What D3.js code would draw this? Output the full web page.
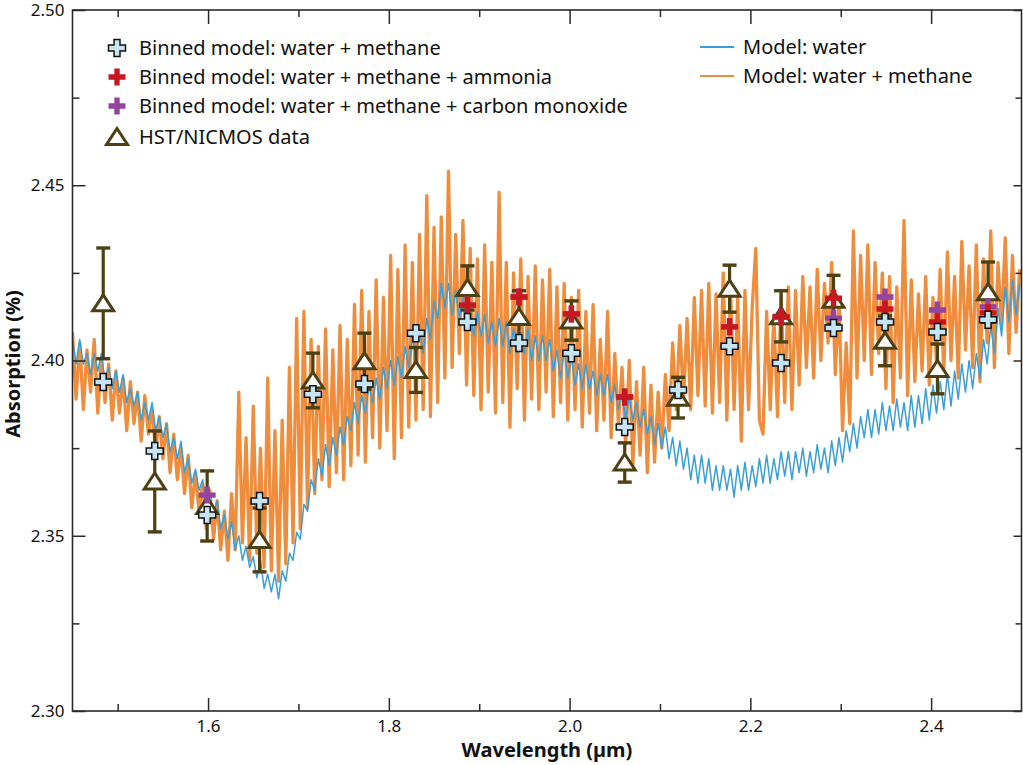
<!DOCTYPE html>
<html><head><meta charset="utf-8">
<script src="https://cdn.jsdelivr.net/npm/d3@7"></script>
<style>
body{margin:0;background:#fff}
svg{display:block}
text{font-family:"Noto Sans",sans-serif;fill:#111}
</style>
</head><body>
<svg id="chart" width="1023" height="765"></svg>
<script>
// ---- data ----
const waveStart = 1.45, waveStep = 0.004;   // sampling grid of the model spectra (µm)
const modelWater = [
2.406,2.399,2.406,2.399,2.402,2.396,2.402,2.397,2.402,2.394,2.398,2.392,2.397,2.391,2.396,2.388,2.392,2.387,2.391,2.383,2.388,2.383,2.388,2.380,2.384,
2.378,2.382,2.374,2.378,2.372,2.377,2.368,2.372,2.365,2.369,2.363,2.366,2.358,2.362,2.356,2.360,2.352,2.356,2.349,2.354,2.346,2.350,2.343,2.347,2.341,
2.344,2.338,2.343,2.335,2.339,2.334,2.339,2.332,2.340,2.337,2.345,2.343,2.351,2.349,2.359,2.357,2.366,2.363,2.372,2.367,2.376,2.370,2.378,2.373,2.381,
2.376,2.384,2.380,2.388,2.382,2.390,2.385,2.393,2.388,2.395,2.389,2.398,2.392,2.400,2.393,2.401,2.395,2.404,2.398,2.407,2.401,2.409,2.402,2.412,2.406,
2.417,2.412,2.422,2.415,2.422,2.413,2.420,2.412,2.418,2.409,2.415,2.407,2.414,2.407,2.413,2.405,2.411,2.404,2.412,2.404,2.411,2.402,2.409,2.402,2.408,
2.402,2.409,2.400,2.407,2.400,2.407,2.400,2.406,2.397,2.403,2.395,2.403,2.395,2.401,2.393,2.399,2.392,2.399,2.392,2.397,2.390,2.396,2.390,2.396,2.388,
2.393,2.386,2.391,2.383,2.390,2.383,2.388,2.381,2.386,2.379,2.384,2.376,2.382,2.375,2.381,2.372,2.378,2.370,2.377,2.369,2.375,2.366,2.373,2.365,2.373,
2.365,2.372,2.363,2.370,2.363,2.370,2.363,2.369,2.361,2.370,2.363,2.371,2.363,2.370,2.364,2.372,2.365,2.373,2.365,2.372,2.366,2.374,2.367,2.374,2.366,
2.374,2.368,2.375,2.367,2.374,2.368,2.376,2.369,2.375,2.368,2.377,2.370,2.378,2.371,2.380,2.374,2.382,2.375,2.384,2.378,2.386,2.378,2.386,2.379,2.388,
2.380,2.387,2.380,2.389,2.381,2.388,2.380,2.390,2.381,2.390,2.382,2.392,2.383,2.393,2.385,2.394,2.386,2.396,2.387,2.397,2.389,2.399,2.391,2.400,2.392,
2.402,2.395,2.406,2.399,2.410,2.402,2.415,2.407,2.421,2.411,2.423,2.413,2.422];
const modelWaterMethane = [
2.408,2.389,2.405,2.386,2.403,2.391,2.406,2.385,2.401,2.388,2.399,2.383,2.397,2.385,2.395,2.380,2.394,2.382,2.391,2.377,2.390,2.379,2.386,2.374,2.384,
2.372,2.382,2.368,2.379,2.366,2.375,2.362,2.373,2.358,2.368,2.357,2.365,2.352,2.363,2.349,2.360,2.346,2.357,2.343,2.362,2.346,2.391,2.348,2.378,2.343,
2.387,2.345,2.375,2.341,2.395,2.340,2.380,2.337,2.383,2.342,2.398,2.348,2.412,2.352,2.414,2.358,2.406,2.362,2.404,2.366,2.409,2.364,2.403,2.368,2.410,
2.366,2.406,2.370,2.416,2.373,2.420,2.371,2.414,2.378,2.423,2.375,2.418,2.380,2.430,2.372,2.426,2.378,2.433,2.381,2.428,2.383,2.436,2.386,2.447,2.384,
2.438,2.388,2.441,2.395,2.454,2.398,2.436,2.402,2.440,2.393,2.432,2.390,2.429,2.386,2.433,2.391,2.428,2.385,2.448,2.388,2.428,2.381,2.425,2.392,2.429,
2.383,2.424,2.389,2.427,2.386,2.423,2.391,2.426,2.384,2.421,2.388,2.422,2.383,2.418,2.386,2.420,2.381,2.414,2.385,2.416,2.380,2.406,2.383,2.414,2.378,
2.402,2.382,2.398,2.376,2.400,2.370,2.394,2.373,2.398,2.368,2.393,2.371,2.391,2.375,2.396,2.380,2.405,2.386,2.410,2.388,2.412,2.386,2.418,2.390,2.420,
2.387,2.422,2.385,2.419,2.388,2.425,2.383,2.421,2.386,2.418,2.377,2.420,2.386,2.415,2.432,2.383,2.379,2.414,2.386,2.413,2.384,2.419,2.388,2.421,2.386,
2.420,2.393,2.424,2.398,2.421,2.395,2.426,2.400,2.422,2.405,2.428,2.396,2.418,2.380,2.405,2.382,2.437,2.395,2.430,2.400,2.433,2.396,2.428,2.402,2.425,
2.392,2.424,2.388,2.421,2.395,2.440,2.390,2.423,2.394,2.419,2.397,2.424,2.393,2.418,2.399,2.426,2.396,2.431,2.400,2.424,2.395,2.434,2.403,2.427,2.398,
2.433,2.394,2.429,2.405,2.437,2.398,2.428,2.410,2.435,2.402,2.430,2.408,2.426];

const binWavelength = [1.484,1.541,1.599,1.657,1.716,1.773,1.830,1.887,1.944,2.002,2.061,2.120,2.177,2.234,2.292,2.349,2.407,2.463];
const binWaterMethane = [2.3939,2.3742,2.3559,2.3599,2.3904,2.3933,2.4078,2.4110,2.4050,2.4021,2.3810,2.3916,2.4041,2.3993,2.4093,2.4110,2.4081,2.4116];
const binAmmonia      = [2.3939,2.3742,2.3559,2.3599,2.3904,2.3933,2.4078,2.4158,2.4181,2.4133,2.3896,2.3916,2.4096,2.4124,2.4178,2.4147,2.4110,2.4136];
const binCarbonMonox  = [2.3939,2.3742,2.3616,2.3599,2.3904,2.3933,2.4078,2.4158,2.4181,2.4133,2.3896,2.3916,2.4096,2.4124,2.4121,2.4181,2.4144,2.4153];
const hstValue = [2.4163,2.3655,2.3585,2.3488,2.3943,2.3998,2.3973,2.4207,2.4124,2.4114,2.3709,2.3894,2.4205,2.4126,2.4173,2.4056,2.3976,2.4195];
const hstError = [0.0158,0.0144,0.0100,0.0091,0.0078,0.0080,0.0064,0.0063,0.0075,0.0056,0.0056,0.0058,0.0067,0.0073,0.0070,0.0071,0.0071,0.0086];

const xMajorTicks = [1.6,1.8,2.0,2.2,2.4];
const xMinorTicks = [1.5,1.7,1.9,2.1,2.3];
const yMajorTicks = [2.30,2.35,2.40,2.45,2.50];
const yMinorTicks = [2.325,2.375,2.425,2.475];

const legendMarkers = ["Binned model: water + methane","Binned model: water + methane + ammonia","Binned model: water + methane + carbon monoxide","HST/NICMOS data"];
const legendLines = ["Model: water","Model: water + methane"];

// ---- styles ----
const C = {orange:"#f08d3d", blue:"#3a9fd6", hst:"#4d4113", light:"#c6e5f4", red:"#c8171f", purple:"#93449d", axis:"#2a2a2a"};

const svg = d3.select("#chart");
const L = 72.5, R = 1021.5, T = 10, B = 711;
const x = d3.scaleLinear().domain([1.45,2.50]).range([L,R]);
const y = d3.scaleLinear().domain([2.30,2.50]).range([B,T]);

svg.append("defs").append("clipPath").attr("id","clip")
  .append("rect").attr("x",L).attr("y",T).attr("width",R-L).attr("height",B-T);

const waves = d3.range(modelWater.length).map(i => waveStart + i*waveStep);
const line = d3.line().x((d,i)=>x(waves[i])).y(d=>y(d));

const plot = svg.append("g").attr("clip-path","url(#clip)");
plot.append("path").datum(modelWaterMethane).attr("d",line)
  .attr("fill","none").attr("stroke",C.orange).attr("stroke-width",3.3).attr("stroke-linejoin","round");
plot.append("path").datum(modelWater).attr("d",line)
  .attr("fill","none").attr("stroke",C.blue).attr("stroke-width",1.5).attr("stroke-linejoin","round");

// shapes
function crossPath(s, t){ // s half-length, t half-thickness
  return `M${-t},${-s}H${t}V${-t}H${s}V${t}H${t}V${s}H${-t}V${t}H${-s}V${-t}H${-t}Z`;
}
const triPath = "M0,-8.5L10.5,7.5L-10.5,7.5Z";

// HST error bars + triangles
const hstG = svg.append("g");
binWavelength.forEach((w,i)=>{
  const cx = x(w), y0 = y(hstValue[i]-hstError[i]), y1 = y(hstValue[i]+hstError[i]);
  hstG.append("line").attr("x1",cx).attr("x2",cx).attr("y1",y0).attr("y2",y1).attr("stroke",C.hst).attr("stroke-width",3.2);
  [y0,y1].forEach(yy=>hstG.append("line").attr("x1",cx-7).attr("x2",cx+7).attr("y1",yy).attr("y2",yy).attr("stroke",C.hst).attr("stroke-width",3.4));
});
hstG.selectAll("path.tri").data(hstValue).join("path").attr("class","tri")
  .attr("d",triPath).attr("transform",(d,i)=>`translate(${x(binWavelength[i])},${y(d)})`)
  .attr("fill","#fff").attr("stroke",C.hst).attr("stroke-width",3).attr("stroke-linejoin","miter");

function drawCross(g, data, fill, outline){
  g.selectAll(null).data(data).join("path")
    .attr("d",crossPath(8.5, outline?3:2.7))
    .attr("transform",(d,i)=>`translate(${x(binWavelength[i])},${y(d)})`)
    .attr("fill",fill).attr("stroke",outline?"#111":"none").attr("stroke-width",outline?1.5:0);
}
drawCross(svg.append("g"), binCarbonMonox, C.purple, false);
drawCross(svg.append("g"), binAmmonia, C.red, false);
drawCross(svg.append("g"), binWaterMethane, C.light, true);

// axes
function styleAxis(g){ g.select(".domain").remove(); g.selectAll(".tick line").attr("stroke",C.axis).attr("stroke-width",1.5);
  g.selectAll("text").style("font-size","17px").attr("fill","#111"); }
svg.append("g").attr("transform",`translate(0,${B})`)
  .call(d3.axisBottom(x).tickValues(xMajorTicks).tickSizeInner(-13).tickSizeOuter(0).tickPadding(9).tickFormat(d3.format(".1f"))).call(styleAxis);
svg.append("g").attr("transform",`translate(0,${B})`)
  .call(d3.axisBottom(x).tickValues(xMinorTicks).tickSizeInner(-7).tickSizeOuter(0).tickFormat("")).call(styleAxis);
svg.append("g").attr("transform",`translate(0,${T})`)
  .call(d3.axisTop(x).tickValues(xMajorTicks).tickSizeInner(-14).tickSizeOuter(0).tickFormat("")).call(styleAxis);
svg.append("g").attr("transform",`translate(0,${T})`)
  .call(d3.axisTop(x).tickValues(xMinorTicks).tickSizeInner(-7).tickSizeOuter(0).tickFormat("")).call(styleAxis);
svg.append("g").attr("transform",`translate(${L},0)`)
  .call(d3.axisLeft(y).tickValues(yMajorTicks).tickSizeInner(-13).tickSizeOuter(0).tickPadding(8).tickFormat(d3.format(".2f"))).call(styleAxis);
svg.append("g").attr("transform",`translate(${L},0)`)
  .call(d3.axisLeft(y).tickValues(yMinorTicks).tickSizeInner(-7).tickSizeOuter(0).tickFormat("")).call(styleAxis);
svg.append("g").attr("transform",`translate(${R},0)`)
  .call(d3.axisRight(y).tickValues(yMajorTicks).tickSizeInner(-8).tickSizeOuter(0).tickFormat("")).call(styleAxis);
svg.append("g").attr("transform",`translate(${R},0)`)
  .call(d3.axisRight(y).tickValues(yMinorTicks).tickSizeInner(-6).tickSizeOuter(0).tickFormat("")).call(styleAxis);

svg.append("rect").attr("x",L).attr("y",T).attr("width",R-L).attr("height",B-T)
  .attr("fill","none").attr("stroke",C.axis).attr("stroke-width",1.6);

// axis titles
svg.append("text").attr("x",547).attr("y",757).attr("text-anchor","middle")
  .style("font-size","20px").style("font-weight","bold").text("Wavelength (µm)");
svg.append("text").attr("transform","translate(20,364) rotate(-90)").attr("text-anchor","middle")
  .style("font-size","20px").style("font-weight","bold").text("Absorption (%)");

// legend (markers)
const legY = [48,77,106,137];
const lg = svg.append("g");
lg.append("path").attr("d",crossPath(8.5,3)).attr("transform",`translate(117,${legY[0]})`).attr("fill",C.light).attr("stroke","#111").attr("stroke-width",1.5);
lg.append("path").attr("d",crossPath(8.5,2.7)).attr("transform",`translate(117,${legY[1]})`).attr("fill",C.red);
lg.append("path").attr("d",crossPath(8.5,2.7)).attr("transform",`translate(117,${legY[2]})`).attr("fill",C.purple);
lg.append("path").attr("d",triPath).attr("transform",`translate(117,${legY[3]})`).attr("fill","#fff").attr("stroke",C.hst).attr("stroke-width",3);
lg.selectAll("text").data(legendMarkers).join("text")
  .attr("x",139).attr("y",(d,i)=>legY[i]).attr("dy","0.35em").style("font-size","20px").text(d=>d);

// legend (lines)
const lineLegY = [47,76];
const lineCols = [C.blue, C.orange];
legendLines.forEach((t,i)=>{
  svg.append("line").attr("x1",700).attr("x2",734).attr("y1",lineLegY[i]).attr("y2",lineLegY[i]).attr("stroke",lineCols[i]).attr("stroke-width",2.2);
  svg.append("text").attr("x",743).attr("y",lineLegY[i]).attr("dy","0.35em").style("font-size","20px").text(t);
});
</script>
</body></html>
